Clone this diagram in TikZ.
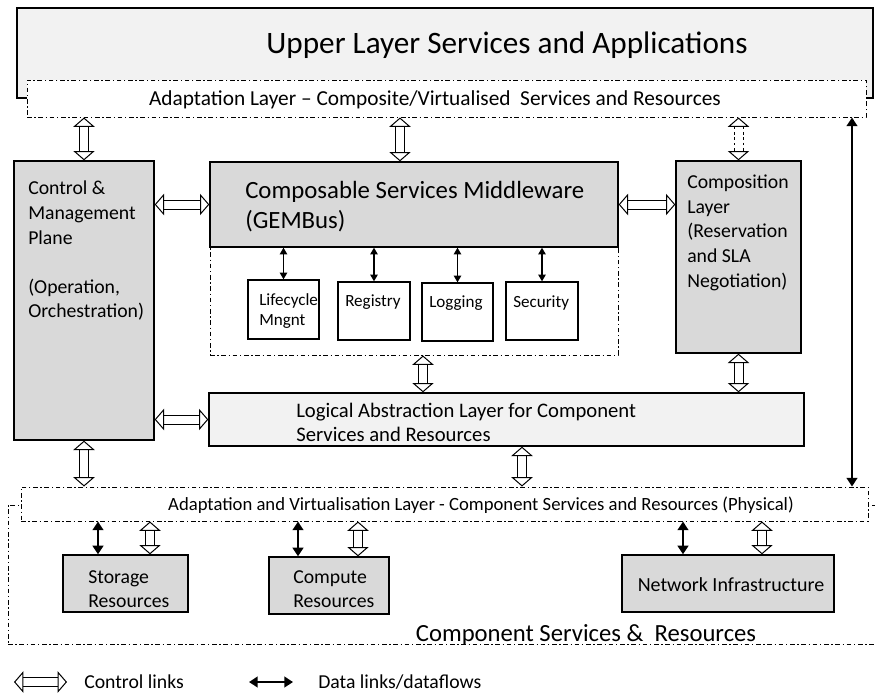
\documentclass[tikz,border=0pt]{standalone}
\usepackage{fontspec}
\setmainfont{Carlito}
\usepackage{tikz}
\usetikzlibrary{arrows.meta}
\definecolor{boxgray}{RGB}{217,217,217}
\definecolor{paleGray}{RGB}{242,242,242}
\newdimen\pxu \pxu=0.75pt

\begin{document}
\begin{tikzpicture}[x=0.75pt, y=-0.75pt,
  box/.style={draw, rectangle, line width=1pt, inner sep=0pt},
  graybox/.style={box, fill=boxgray},
  palebox/.style={box, fill=paleGray},
  dashbox/.style={draw, rectangle, line width=0.75pt, inner sep=0pt, dash pattern=on 3.5pt off 2pt on 1pt off 2pt},
  txt/.style={inner sep=0pt, align=left, font=\fontsize{14.8}{18.4}\selectfont},
  ctl/.style={double, double distance=6pt, line width=0.75pt, {Triangle[open,length=7pt,width=16pt]}-{Triangle[open,length=7pt,width=16pt]}},
  dat/.style={line width=1pt, {Triangle[length=5pt,width=5.5pt]}-{Triangle[length=5pt,width=5.5pt]}},
  datbig/.style={line width=2pt, {Triangle[length=6.5pt,width=8pt]}-{Triangle[length=6.5pt,width=8pt]}}]
\useasboundingbox (0,0) rectangle (875,693);

% Upper layer
\node[palebox, minimum width=856\pxu, minimum height=90\pxu] (upper) at (445,53) {};
\node[inner sep=0pt, font=\fontsize{23.4}{28}\selectfont, anchor=base] (uppertxt) at (507,53) {Upper Layer Services and Applications};

% Adaptation layer (top)
\node[dashbox, fill=white, minimum width=839\pxu, minimum height=37\pxu] (adapttop) at (446.5,98.5) {};
\node[inner sep=0pt, font=\fontsize{16}{19}\selectfont, anchor=base] (adapttoptxt) at (435,105) {Adaptation Layer -- Composite/Virtualised\ \ Services and Resources};

% Control & Management Plane
\node[graybox, minimum width=140\pxu, minimum height=279\pxu] (ctrl) at (84,300.5) {};
\node[txt, anchor=north west] (ctrltxt) at (28,181) {Control \&\\Management\\Plane\\[18.4pt](Operation,\\Orchestration)};

% GEMBus area and middleware
\node[dashbox, minimum width=408\pxu, minimum height=193\pxu] (gemarea) at (414,258.5) {};
\node[graybox, minimum width=408\pxu, minimum height=85\pxu] (gembus) at (414,204.5) {};
\node[txt, anchor=north west, font=\fontsize{18.6}{22.5}\selectfont] (gembustxt) at (245,181) {Composable Services Middleware\\(GEMBus)};

% GEMBus components
\node[box, fill=white, minimum width=71\pxu, minimum height=59\pxu] (lifecycle) at (283.5,309.5) {};
\node[box, fill=white, minimum width=72\pxu, minimum height=58\pxu] (registry) at (374,311) {};
\node[box, fill=white, minimum width=71\pxu, minimum height=58\pxu] (logging) at (457.5,312) {};
\node[box, fill=white, minimum width=72\pxu, minimum height=58\pxu] (security) at (542,311) {};
\node[txt, anchor=north west, font=\fontsize{12.8}{15}\selectfont] (lifecycletxt) at (259,293) {Lifecycle\\Mngnt};
\node[txt, anchor=base west, font=\fontsize{12.8}{15}\selectfont] (registrytxt) at (345,306) {Registry};
\node[txt, anchor=base west, font=\fontsize{12.8}{15}\selectfont] (loggingtxt) at (429,307) {Logging};
\node[txt, anchor=base west, font=\fontsize{12.8}{15}\selectfont] (securitytxt) at (513,307) {Security};

% Composition layer
\node[graybox, minimum width=125\pxu, minimum height=192\pxu] (compo) at (738.5,257) {};
\node[txt, anchor=north west] (compotxt) at (687,175) {Composition\\Layer\\(Reservation\\and SLA\\Negotiation)};

% Logical abstraction layer
\node[palebox, minimum width=595\pxu, minimum height=53\pxu] (logical) at (506.5,419.5) {};
\node[txt, anchor=north west, font=\fontsize{15.5}{18}\selectfont] (logicaltxt) at (296,403) {Logical Abstraction Layer for Component\\Services and Resources};

% Component services & resources
\node[dashbox, minimum width=869\pxu, minimum height=139\pxu] (compsvc) at (442.5,574.5) {};
\node[inner sep=0pt, font=\fontsize{18.5}{22}\selectfont, anchor=base] (compsvctxt) at (586,641) {Component Services \&\ \ Resources};
\node[dashbox, fill=white, minimum width=847\pxu, minimum height=34\pxu] (adaptbot) at (444.5,504) {};
\node[inner sep=0pt, font=\fontsize{14}{17}\selectfont, anchor=base] (adaptbottxt) at (481,510) {Adaptation and Virtualisation Layer - Component Services and Resources (Physical)};

% Resources
\node[graybox, minimum width=125\pxu, minimum height=57\pxu] (storage) at (125.5,583.5) {};
\node[graybox, minimum width=120\pxu, minimum height=57\pxu] (compute) at (329,585.5) {};
\node[graybox, minimum width=212\pxu, minimum height=57\pxu] (network) at (728,583.5) {};
\node[txt, anchor=north west] (storagetxt) at (88,570) {Storage\\Resources};
\node[txt, anchor=north west] (computetxt) at (293,570) {Compute\\Resources};
\node[txt, anchor=base, font=\fontsize{15}{18}\selectfont] (networktxt) at (731,591) {Network Infrastructure};

% connector positions
\foreach \n/\x in {gemin/400, gemout/423, logout/522, datright/852, stdat/98, stctl/150, cudat/298, cuctl/358, nwdat/683, nwctl/762}
  \coordinate (\n) at (\x,0);

% Control links
\draw[ctl] (adapttop.south -| ctrl.north) -- (ctrl.north);
\draw[ctl] (adapttop.south -| gemin) -- (gembus.north -| gemin);
\draw[ctl, dash pattern=on 2pt off 2pt] (adapttop.south -| compo.north) -- (compo.north);
\draw[ctl] (ctrl.east |- gembus.west) -- (gembus.west);
\draw[ctl] (gembus.east) -- (gembus.east -| compo.west);
\draw[ctl] (ctrl.east |- logical.west) -- (logical.west);
\draw[ctl] (gemarea.south -| gemout) -- (logical.north -| gemout);
\draw[ctl] (compo.south) -- (logical.north -| compo.south);
\draw[ctl] (logical.south -| logout) -- (adaptbot.north -| logout);
\draw[ctl] (ctrl.south) -- (adaptbot.north -| ctrl.south);
\draw[ctl] (adaptbot.south -| stctl) -- (storage.north -| stctl);
\draw[ctl] (adaptbot.south -| cuctl) -- (compute.north -| cuctl);
\draw[ctl] (adaptbot.south -| nwctl) -- (network.north -| nwctl);

% Data links
\foreach \b in {lifecycle, registry, logging, security}
  \draw[dat] (gembus.south -| \b.north) -- (\b.north);
\draw[datbig] (adapttop.south -| datright) -- (adaptbot.north -| datright);
\draw[datbig] (adaptbot.south -| stdat) -- (storage.north -| stdat);
\draw[datbig] (adaptbot.south -| cudat) -- (compute.north -| cudat);
\draw[datbig] (adaptbot.south -| nwdat) -- (network.north -| nwdat);

% Legend
\coordinate (lc1) at (14,682);
\coordinate (lc2) at (67,682);
\coordinate (ld1) at (249,682);
\coordinate (ld2) at (293,682);
\draw[ctl] (lc1) -- (lc2);
\node[txt, anchor=base west] (legctl) at (84,688) {Control links};
\draw[datbig] (ld1) -- (ld2);
\node[txt, anchor=base west] (legdat) at (318,688) {Data links/dataflows};
\end{tikzpicture}
\end{document}
